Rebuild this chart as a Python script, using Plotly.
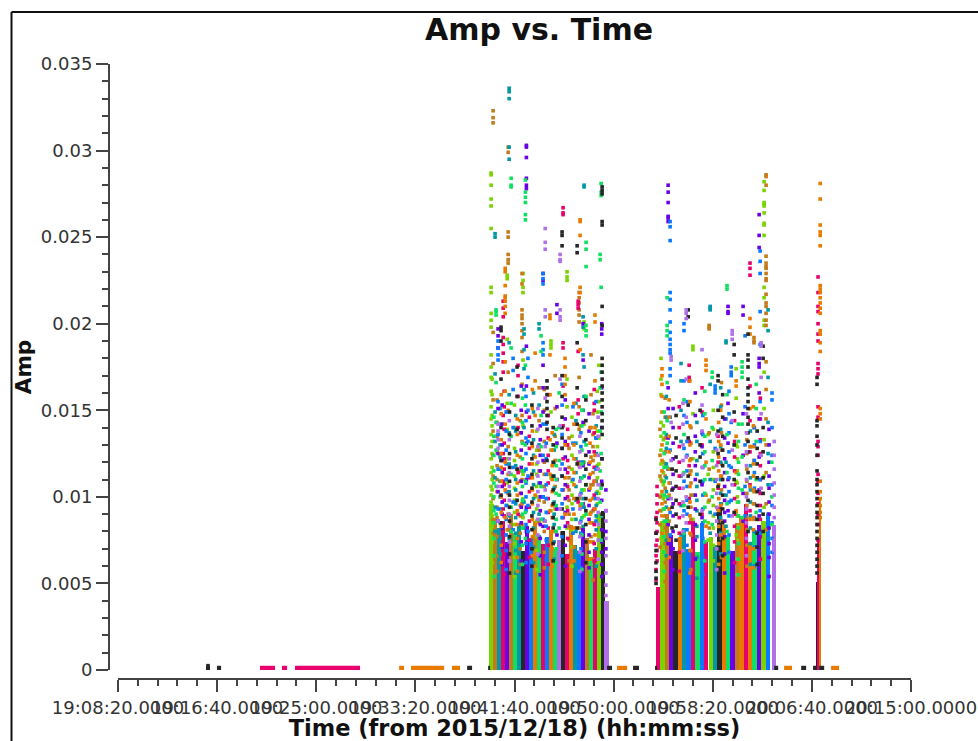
import plotly.graph_objects as go

# Time is seconds after 19:08:20, amplitudes are in milli-Amp units.
tick_seconds = [0, 500, 1000, 1500, 2000, 2500, 3000, 3500, 4000]
tick_labels = ["19:08:20.0000", "19:16:40.0000", "19:25:00.0000", "19:33:20.0000", "19:41:40.0000",
               "19:50:00.0000", "19:58:20.0000", "20:06:40.0000", "20:15:00.0000"]

color_hex = {"lime": "#7ad400", "brown": "#c47a1a", "teal": "#0097a7", "pink": "#e8006e", "purple": "#6a00e8",
             "blue": "#0a78ff", "orange": "#e87a00", "green": "#10e060", "black": "#262626", "lavender": "#b070e8"}

bar1_t = [1882, 1902, 1922, 1943, 1963, 1983, 2003, 2023, 2043, 2063, 2084, 2104, 2124, 2144, 2164, 2184, 2205, 2225,
          2245, 2265, 2285, 2305, 2326, 2346, 2366, 2386, 2406, 2426, 2446, 2464]
bar1_c = ["lime", "brown", "teal", "pink", "purple", "brown", "green", "teal", "black", "purple", "blue", "orange",
          "green", "pink", "blue", "orange", "green", "lavender", "black", "pink", "orange", "teal", "blue", "purple",
          "brown", "green", "pink", "lime", "black", "lavender"]
bar1_h = [9.6, 8.8, 8.2, 8.6, 7.4, 9.0, 7.9, 8.5, 6.9, 8.3, 7.6, 8.6, 7.8, 7.3, 7.7, 8.1, 7.0, 7.5,
          8.0, 6.7, 8.4, 7.2, 6.9, 8.2, 7.6, 6.5, 7.0, 9.0, 9.2, 4.0]

bar2_t = [2724, 2746, 2768, 2790, 2812, 2834, 2856, 2878, 2901, 2923, 2945, 2967, 2990, 3012, 3034, 3056, 3078,
          3100, 3122, 3145, 3167, 3189, 3211, 3233, 3255, 3278, 3310]
bar2_c = ["pink", "lime", "brown", "purple", "black", "orange", "teal", "blue", "pink", "green", "blue", "pink",
          "lime", "teal", "black", "orange", "green", "purple", "brown", "orange", "pink", "orange", "green",
          "purple", "lime", "blue", "lavender"]
bar2_h = [4.8, 8.6, 9.0, 7.8, 6.9, 7.7, 8.2, 7.0, 8.6, 6.8, 8.5, 7.4, 7.7, 7.2, 9.4, 8.4, 7.8, 6.9,
          8.5, 8.9, 9.6, 7.4, 8.1, 8.4, 8.6, 9.0, 8.4]

bar3_t = [3526, 3531, 3542]
bar3_c = ["black", "pink", "orange"]
bar3_h = [5.1, 7.5, 9.9]

low_black_t = [444, 464, None, 499, 520, None, 1761, 1786, None, 1867, 1877, None, 2467, 2492, None, 2598, 2628, None,
               2709, 2719, None, 3310, 3330, None, 3446, 3471, None, 3506, 3526, None, 3537, 3562]
low_black_a = [0.1, 0.1, None, 0.1, 0.1, None, 0.1, 0.1, None, 0.1, 0.1, None, 0.1, 0.1, None, 0.1, 0.1, None,
               0.1, 0.1, None, 0.1, 0.1, None, 0.1, 0.1, None, 0.1, 0.1, None, 0.1, 0.1]
low_pink_t = [716, 792, None, 827, 853, None, 893, 1221]
low_pink_a = [0.1, 0.1, None, 0.1, 0.1, None, 0.1, 0.1]
low_orange_t = [1418, 1443, None, 1478, 1645, None, 1685, 1725, None, 2517, 2568, None, 3360, 3400, None, 3597, 3637]
low_orange_a = [0.1, 0.1, None, 0.1, 0.1, None, 0.1, 0.1, None, 0.1, 0.1, None, 0.1, 0.1, None, 0.1, 0.1]

lime_t = [1882, 1963, 2043, 2184, 2265, 2351, 2426, 2739, 2900, 2977, 3118, 3259,
          1887, 2000, 2112, 2290, 2418, 2751, 3003, 3124]
lime_a = [[28.7, 28.6, 28.0, 27.2, 26.8, 25.5, 22.1, 21.8, 20.6, 20.2, 19.8, 18.2, 17.5, 16.9, 16.1, 15.2, 14.5, 13.6, 12.9, 12.2, 11.4, 10.6, 10.1, 9.7],
          [22.8, 22.6, 19.1, 15.4, 13.9, 12.2, 10.8, 9.5, 8.1],
          [22.9, 22.5, 22.1, 21.8, 17.9, 14.1, 11.3, 9.9, 8.8],
          [19.0, 18.8, 18.6, 14.9, 12.7, 11.1, 9.2],
          [23.0, 22.7, 22.5, 16.8, 15.2, 13.0, 10.7, 9.4, 8.2],
          [20.1, 20.0, 19.7, 14.2, 12.0, 10.4, 8.9],
          [17.6, 15.5, 13.4, 11.9, 10.2, 9.0, 7.9, 7.2],
          [18.0, 16.8, 15.9, 14.3, 13.5, 12.7, 11.9, 11.0, 10.1, 9.2, 8.4, 7.6],
          [18.7, 18.5, 14.8, 12.2, 10.1, 8.7],
          [13.6, 11.3, 9.7, 8.5, 7.5],
          [17.4, 15.7, 13.0, 10.9, 9.1, 7.8],
          [28.2, 27.7, 27.0, 26.9, 26.8, 26.4, 25.8, 25.7, 25.1, 22.1, 21.5, 20.2, 19.9, 17.2, 15.1, 13.3, 11.2, 9.4, 8.2],
          [16.8, 15.9, 14.7, 14.1, 13.2, 12.5, 11.7, 11.0, 10.4, 9.5, 8.9, 8.3, 7.4, 6.2],
          [15.3, 14.0, 12.8, 12.1, 11.2, 10.5, 9.8, 9.1, 8.4, 7.3, 6.5, 5.4],
          [13.8, 12.7, 11.9, 11.3, 10.6, 10.0, 9.3, 8.6, 7.7, 6.9, 5.8],
          [14.6, 13.5, 12.4, 11.6, 10.9, 10.1, 9.6, 8.7, 8.0, 7.1, 6.0],
          [16.1, 14.9, 13.8, 12.9, 11.8, 11.1, 10.3, 9.6, 8.8, 8.1, 7.0, 6.1],
          [14.1, 13.3, 12.0, 11.4, 10.7, 9.9, 9.3, 8.5, 7.8, 6.7, 5.6],
          [15.0, 13.9, 12.6, 11.7, 11.0, 10.4, 9.5, 8.9, 8.2, 7.2, 6.3],
          [12.9, 12.2, 11.5, 10.8, 10.0, 9.7, 8.9, 8.3, 7.5, 6.4, 5.5]]

brown_t = [1892, 1968, 2038, 2124, 2205, 2326, 2386, 2734, 2982, 3208, 3269,
           1912, 2029, 2150, 2275, 2396, 2760, 2890, 3044, 3172]
brown_a = [[32.3, 31.9, 31.6, 19.5, 17.7, 15.6, 13.8, 12.4, 11.2, 9.9, 8.7, 7.9],
           [30.2, 29.9, 25.3, 25.0, 24.0, 23.7, 23.5, 17.2, 15.0, 12.9, 11.3, 10.2, 9.0, 8.1],
           [22.9, 22.3, 20.8, 20.5, 20.3, 20.0, 19.6, 19.2, 18.4, 16.5, 14.7, 13.2, 11.0, 9.6, 8.4],
           [16.3, 14.4, 12.7, 11.5, 9.8, 8.5, 7.6],
           [17.0, 15.1, 13.5, 12.1, 10.6, 9.3, 8.0],
           [21.8, 21.5, 21.2, 20.8, 20.5, 20.1, 16.9, 15.2, 13.9, 11.8, 9.9, 8.2],
           [18.2, 15.9, 14.0, 12.3, 10.7, 9.1, 7.7],
           [13.9, 12.4, 11.2, 10.0, 9.2, 8.4, 7.1],
           [19.9, 19.8, 19.7, 13.7, 11.6, 9.8, 8.2],
           [19.2, 19.0, 18.9, 14.0, 12.1, 10.3, 8.7],
           [28.6, 28.5, 28.0, 23.9, 23.5, 23.3, 23.2, 22.9, 22.6, 22.5, 21.7, 21.2, 21.0, 20.6, 20.2, 19.9, 17.8, 16.2, 14.5, 13.0, 11.4, 9.6, 8.1],
           [15.6, 14.3, 13.5, 12.6, 11.8, 11.0, 10.3, 9.4, 8.8, 7.7, 6.6, 5.7],
           [14.4, 13.7, 12.3, 11.5, 10.9, 10.2, 9.5, 8.9, 7.9, 7.0, 6.1],
           [16.2, 15.0, 13.2, 12.0, 11.3, 10.6, 9.7, 8.6, 8.0, 6.8, 5.9],
           [13.4, 12.8, 11.7, 11.1, 10.4, 9.8, 9.0, 8.3, 7.5, 6.3],
           [14.8, 13.6, 12.9, 12.1, 11.4, 10.7, 9.9, 9.2, 8.5, 7.4, 6.4, 5.2],
           [15.7, 14.6, 13.4, 12.6, 11.9, 11.2, 10.5, 9.7, 8.9, 8.2, 7.3, 6.2, 5.1],
           [14.0, 13.1, 12.2, 11.5, 10.8, 10.1, 9.4, 8.7, 7.8, 6.9, 5.8],
           [16.6, 15.3, 13.7, 12.7, 11.9, 11.2, 10.4, 9.6, 8.6, 7.6, 6.5],
           [13.3, 12.5, 11.6, 10.9, 10.2, 9.5, 8.8, 8.1, 7.2, 6.0]]

teal_t = [1902, 1973, 2048, 2124, 2351, 2346, 2987, 3067, 2840, 3279,
          1927, 2006, 2096, 2200, 2310, 2412, 2766, 2920, 3040, 3190]
teal_a = [[25.2, 25.0, 17.1, 14.9, 13.2, 11.1, 9.4, 8.0],
          [33.6, 33.4, 33.0, 30.2, 29.5, 18.9, 15.9, 13.7, 11.9, 10.3, 8.9, 7.6],
          [19.7, 19.4, 18.5, 17.4, 16.2, 14.0, 11.5, 9.7, 8.2],
          [20.0, 19.7, 15.3, 13.0, 10.8, 9.0, 7.7],
          [28.0, 27.9, 17.5, 15.8, 13.2, 11.2, 9.4],
          [20.4, 19.8, 18.2, 15.0, 12.0, 9.9, 8.3],
          [21.0, 20.9, 20.8, 16.5, 13.2, 11.0, 9.1, 7.9],
          [19.0, 18.9, 14.5, 12.0, 10.1, 8.3],
          [17.7, 16.7, 15.0, 13.2, 11.2, 9.5, 7.8],
          [20.8, 19.6, 16.9, 14.3, 12.5, 10.7, 9.0, 7.6],
          [15.1, 14.2, 13.0, 12.3, 11.6, 10.9, 10.0, 9.3, 8.5, 7.6, 6.7],
          [14.7, 13.8, 12.6, 11.8, 11.0, 10.4, 9.6, 8.8, 7.9, 6.9, 5.6],
          [16.0, 14.9, 13.3, 12.4, 11.5, 10.7, 9.9, 9.1, 8.2, 7.1, 6.2],
          [13.6, 12.7, 11.9, 11.2, 10.5, 9.7, 9.0, 8.4, 7.4, 6.4],
          [15.4, 14.4, 13.1, 12.2, 11.4, 10.6, 9.8, 8.7, 8.0, 6.8, 5.9],
          [14.1, 13.4, 12.5, 11.7, 10.9, 10.2, 9.5, 8.9, 8.1, 7.0, 6.0],
          [15.8, 14.6, 13.6, 12.8, 11.9, 11.1, 10.3, 9.4, 8.6, 7.5, 6.6],
          [14.3, 13.2, 12.1, 11.3, 10.6, 9.8, 9.2, 8.3, 7.7, 6.5, 5.3],
          [16.3, 15.2, 13.9, 12.9, 12.0, 11.0, 10.2, 9.6, 8.8, 7.9, 6.7],
          [13.8, 12.9, 11.8, 11.1, 10.4, 9.7, 8.9, 8.2, 7.3, 6.1]]

pink_t = [1943, 2245, 2321, 2018, 2714, 3188, 2881, 2946, 3027, 3531,
          1948, 2075, 2170, 2268, 2402, 2719, 2831, 3110, 3240]
pink_a = [[21.3, 20.9, 20.4, 19.2, 18.8, 18.3, 17.8, 17.2, 14.7, 12.5, 10.9, 9.3, 8.2],
          [26.7, 26.4, 26.3, 18.9, 18.6, 16.4, 14.1, 12.2, 10.4, 8.8],
          [21.3, 21.1, 20.9, 18.4, 15.6, 14.8, 12.0, 9.7],
          [17.6, 17.0, 15.8, 14.0, 11.4, 9.0],
          [8.8, 7.9, 7.2, 6.6, 5.8, 5.2],
          [23.5, 23.2, 22.8, 16.4, 14.4, 12.6, 10.7, 9.2],
          [17.6, 16.9, 16.7, 13.2, 11.8, 9.9, 8.5],
          [16.3, 14.9, 13.0, 10.8, 9.0],
          [13.5, 12.0, 10.5, 9.3],
          [22.7, 21.8, 21.0, 20.7, 20.0, 19.4, 19.0, 17.7, 17.4, 17.1, 15.2, 14.6, 13.2, 12.9, 12.4, 11.3, 10.9, 10.2, 9.6, 9.0, 8.4, 7.5],
          [16.1, 15.2, 13.9, 13.1, 12.2, 11.6, 10.7, 9.8, 8.9, 7.8, 6.7, 5.5],
          [14.6, 13.5, 12.8, 11.9, 11.1, 10.3, 9.4, 8.6, 7.5, 6.5],
          [15.9, 14.7, 13.4, 12.4, 11.5, 10.8, 9.9, 9.1, 8.2, 7.2, 6.1],
          [13.9, 13.0, 12.1, 11.4, 10.6, 10.0, 9.2, 8.5, 7.6, 6.6],
          [16.2, 15.4, 15.0, 13.7, 12.6, 11.7, 10.9, 10.1, 9.3, 8.4, 7.3, 6.3],
          [10.6, 10.1, 9.6, 9.1, 8.5, 8.0, 7.5, 6.9, 6.3],
          [15.2, 14.0, 12.9, 12.0, 11.2, 10.5, 9.6, 8.8, 7.9, 6.8, 5.7],
          [14.4, 13.2, 12.3, 11.5, 10.7, 9.9, 9.0, 8.3, 7.4, 6.2],
          [15.7, 14.5, 13.3, 12.5, 11.8, 11.0, 10.2, 9.5, 8.7, 7.7, 6.4]]

purple_t = [2060, 1917, 2144, 2214, 2440, 2346, 2461, 2775, 3077, 3153, 3234, 2946,
            1938, 2034, 2130, 2256, 2376, 2800, 2912, 3060, 3284]
purple_a = [[30.3, 30.2, 29.6, 28.4, 28.0, 27.8, 18.7, 16.4, 14.9, 13.1, 11.0, 9.4, 8.0],
            [19.7, 19.3, 18.6, 15.1, 12.5, 10.3, 8.6],
            [22.9, 22.5, 17.6, 16.3, 14.9, 12.1, 10.0, 8.3],
            [21.1, 20.6, 15.2, 13.1, 11.0, 9.3, 7.8],
            [20.0, 19.7, 19.4, 16.3, 14.0, 12.2, 10.9, 9.8, 8.9, 8.1, 7.4, 6.8, 6.1, 5.4],
            [20.0, 17.9, 14.3, 11.8, 9.6],
            [10.4, 9.2, 8.0, 7.0],
            [28.0, 27.6, 27.0, 26.2, 26.1, 25.9, 16.3, 15.1, 13.4, 11.6, 9.9, 8.4, 7.3],
            [21.0, 20.7, 20.6, 15.4, 13.1, 11.0, 9.2],
            [21.0, 20.5, 14.8, 12.4, 10.2, 8.6],
            [26.3, 25.1, 24.4, 18.0, 17.7, 17.5, 16.0, 14.5, 12.3, 10.4, 8.9, 7.7],
            [13.7, 12.9, 10.7, 8.8],
            [15.3, 14.2, 13.0, 12.1, 11.4, 10.6, 9.7, 9.0, 8.2, 7.1, 6.1],
            [16.4, 15.0, 13.7, 12.7, 11.7, 10.9, 10.2, 9.4, 8.5, 7.4, 6.3],
            [14.1, 13.3, 12.4, 11.5, 10.8, 10.0, 9.2, 8.4, 7.6, 6.6, 5.5],
            [15.6, 14.5, 13.2, 12.3, 11.6, 10.7, 9.9, 9.1, 8.3, 7.2, 6.0],
            [14.8, 13.8, 12.6, 11.9, 11.1, 10.4, 9.5, 8.7, 7.8, 6.8, 5.9],
            [15.1, 14.0, 13.1, 12.2, 11.3, 10.5, 9.6, 8.9, 8.0, 7.0, 5.8],
            [16.0, 14.7, 13.5, 12.6, 11.8, 11.0, 10.1, 9.3, 8.4, 7.5, 6.4],
            [14.5, 13.4, 12.2, 11.4, 10.6, 9.8, 9.1, 8.6, 7.7, 6.7, 5.6],
            [13.9, 13.0, 12.0, 11.2, 10.5, 9.7, 9.0, 8.2, 7.3, 6.5, 5.4]]

blue_t = [1917, 2144, 2068, 1993, 2295, 2411, 2785, 2855, 3093, 3239, 3012, 3299, 3163,
          1958, 2058, 2160, 2240, 2335, 2870, 2950, 3082, 3210]
blue_a = [[19.0, 18.6, 18.2, 17.9, 15.5, 13.6, 11.6, 9.3],
          [22.9, 22.6, 22.3, 18.9, 18.5, 18.2, 14.2, 12.4, 10.0, 8.7],
          [18.0, 16.9, 15.0, 13.2, 11.2, 9.5, 8.0],
          [18.0, 17.3, 16.2, 14.0, 11.7, 9.7, 8.1],
          [15.2, 13.1, 11.0, 9.3, 7.9],
          [15.5, 13.4, 11.6, 9.9, 8.6],
          [25.9, 25.6, 24.8, 21.8, 21.4, 20.8, 20.1, 19.5, 19.1, 18.8, 18.5, 18.3, 17.4, 17.0, 14.6, 12.7, 10.8, 9.1, 7.8],
          [20.0, 19.6, 16.7, 14.7, 12.8, 10.9, 9.2],
          [17.5, 17.2, 17.0, 14.3, 11.7, 9.8],
          [24.2, 23.6, 22.9, 20.7, 18.8, 15.5, 13.2, 11.0, 9.2, 7.9],
          [16.4, 16.2, 16.0, 12.8, 10.9, 9.0],
          [16.0, 15.6, 14.0, 12.4, 10.7, 9.5, 8.5, 7.6, 6.8],
          [19.3, 15.2, 13.0, 10.6, 8.9],
          [14.9, 13.8, 12.7, 11.9, 11.0, 10.3, 9.5, 8.7, 7.8, 6.9, 5.8],
          [15.8, 14.4, 13.4, 12.5, 11.6, 10.8, 10.0, 9.2, 8.4, 7.3, 6.2],
          [14.2, 13.1, 12.2, 11.3, 10.7, 9.9, 9.1, 8.3, 7.5, 6.4],
          [16.5, 15.3, 13.6, 12.8, 11.9, 11.2, 10.4, 9.6, 8.8, 7.7, 6.6],
          [13.7, 12.9, 12.0, 11.1, 10.2, 9.4, 8.6, 7.9, 7.0, 5.9],
          [15.5, 14.3, 13.2, 12.4, 11.5, 10.6, 9.8, 9.0, 8.1, 7.2, 6.1],
          [14.7, 13.6, 12.5, 11.7, 10.9, 10.1, 9.3, 8.5, 7.6, 6.5, 5.5],
          [16.1, 14.8, 13.7, 12.6, 11.8, 11.1, 10.3, 9.7, 8.9, 7.8, 6.8],
          [14.0, 13.0, 12.1, 11.4, 10.5, 9.6, 8.8, 8.0, 7.1, 6.0]]

orange_t = [1953, 2104, 2179, 2331, 2406, 2255, 2744, 2966, 3188, 3118, 3040, 3542,
            1933, 2014, 2090, 2190, 2300, 2381, 2780, 2885, 3030, 3205]
orange_a = [[23.2, 23.0, 22.2, 21.6, 21.5, 21.3, 21.0, 20.6, 17.8, 16.1, 14.2, 12.0, 10.4, 8.8],
            [18.3, 16.7, 14.7, 12.3, 10.1, 8.4],
            [20.5, 20.3, 18.2, 15.9, 13.3, 11.3, 9.2],
            [26.0, 25.9, 25.1, 22.1, 21.8, 18.5, 14.1, 11.9, 9.5],
            [20.5, 20.1, 16.7, 14.0, 12.4, 10.9, 9.3, 7.8],
            [18.0, 17.5, 17.0, 16.5, 15.9, 13.0, 11.1, 9.0],
            [17.4, 17.0, 16.5, 15.8, 14.9, 13.0, 12.1, 11.5, 10.9, 10.3, 9.6, 8.9, 7.9],
            [17.9, 17.6, 17.3, 14.5, 12.0, 10.1, 8.3],
            [20.3, 19.8, 19.4, 15.1, 12.9, 10.6, 8.7],
            [16.7, 16.4, 13.5, 11.4, 9.2],
            [15.0, 13.0, 11.2, 9.5, 7.8],
            [28.1, 27.2, 25.7, 25.3, 25.1, 24.5, 22.2, 22.0, 21.8, 21.5, 21.2, 20.9, 20.6, 19.6, 19.4, 18.9, 18.4, 15.1, 14.8, 14.5, 10.9, 10.3, 9.9, 9.5, 9.1, 8.8],
            [15.9, 14.8, 13.3, 12.5, 11.7, 10.9, 10.0, 9.1, 8.3, 7.2, 6.2],
            [14.5, 13.6, 12.4, 11.6, 10.8, 10.1, 9.2, 8.4, 7.6, 6.5, 5.7],
            [16.2, 15.1, 13.8, 12.9, 11.9, 11.1, 10.4, 9.6, 8.7, 7.7, 6.6],
            [13.7, 12.7, 11.8, 11.0, 10.3, 9.5, 8.8, 8.0, 7.0, 6.0],
            [15.4, 14.2, 13.0, 12.2, 11.4, 10.7, 9.9, 9.0, 8.2, 7.1, 6.3],
            [14.0, 13.1, 12.0, 11.3, 10.5, 9.8, 9.0, 8.5, 7.4, 6.4],
            [15.6, 14.6, 13.5, 12.6, 11.6, 10.8, 10.1, 9.3, 8.6, 7.5, 6.5],
            [16.7, 15.5, 14.1, 13.0, 12.1, 11.3, 10.6, 9.7, 8.9, 7.9, 6.9, 5.6],
            [14.3, 13.2, 12.3, 11.5, 10.7, 9.9, 9.2, 8.3, 7.3, 6.1],
            [15.2, 14.1, 12.9, 11.9, 11.2, 10.4, 9.6, 8.8, 8.1, 7.0, 5.9]]

green_t = [1907, 1983, 2055, 2134, 2361, 2437, 2432, 2225, 2770, 3072, 2997, 3148, 3219, 2855, 3298,
           1896, 2040, 2210, 2340, 2755, 2960, 3130]
green_a = [[20.8, 20.7, 20.5, 16.6, 14.3, 12.7, 10.6, 9.0],
           [28.4, 28.0, 27.9, 18.6, 15.4, 13.5, 11.3, 9.4, 8.0],
           [28.3, 27.6, 27.3, 27.0, 26.3, 26.0, 17.6, 15.3, 13.0, 10.9, 9.1, 7.6],
           [19.3, 18.4, 14.7, 12.9, 10.6, 8.7],
           [24.7, 24.3, 23.3, 19.9, 19.6, 19.3, 15.8, 13.0, 10.7, 9.0],
           [28.1, 27.6, 27.4, 22.1, 17.2, 14.9, 12.5, 10.5, 8.9, 7.5],
           [24.0, 23.7, 16.3, 13.8, 11.5, 9.7],
           [16.0, 14.0, 12.1, 10.1, 8.2],
           [21.5, 19.9, 19.6, 19.3, 16.6, 14.4, 13.1, 11.7, 10.0, 8.6],
           [22.2, 22.0, 15.9, 13.6, 11.4, 9.6, 8.0],
           [17.2, 16.9, 14.0, 12.1, 10.0, 8.4],
           [17.8, 17.5, 17.2, 16.9, 14.2, 12.3, 10.4, 8.8],
           [16.5, 15.1, 13.2, 11.0, 9.1],
           [15.6, 13.6, 11.4, 9.5, 7.9],
           [12.0, 10.0, 8.4],
           [14.6, 13.5, 12.4, 11.5, 10.8, 10.0, 9.2, 8.5, 7.6, 6.6, 5.4],
           [15.7, 14.3, 13.1, 12.2, 11.5, 10.6, 9.8, 9.0, 8.2, 7.2, 6.1],
           [13.9, 12.9, 11.8, 11.0, 10.2, 9.5, 8.7, 8.0, 7.0, 6.2],
           [15.0, 14.1, 12.7, 11.9, 11.1, 10.4, 9.6, 8.8, 7.8, 6.7, 5.8],
           [14.9, 13.7, 12.5, 11.7, 10.9, 10.1, 9.3, 8.6, 7.7, 6.8, 5.7],
           [16.1, 14.8, 13.5, 12.6, 11.8, 11.0, 10.2, 9.4, 8.6, 7.4, 6.3],
           [14.2, 13.2, 12.0, 11.3, 10.5, 9.7, 8.9, 8.2, 7.3, 6.4, 5.5]]

black_t = [1932, 2240, 2316, 2442, 2164, 2013, 2876, 3027, 3108, 3178, 3254, 2714, 2795, 2936, 3526, 454,
           1975, 2088, 2195, 2360, 2815, 3050, 3224]
black_a = [[19.8, 19.6, 19.0, 16.8, 14.0, 12.1, 10.1, 8.5],
           [25.3, 25.1, 24.5, 17.0, 15.8, 14.6, 14.0, 13.4, 12.8, 11.2, 9.3, 7.9],
           [24.5, 24.1, 18.9, 16.3, 14.2, 11.9, 9.9, 8.2],
           [27.9, 27.7, 27.5, 25.9, 25.7, 21.0, 19.9, 18.0, 17.6, 17.2, 16.8, 16.4, 16.0, 15.6, 15.2, 14.8, 14.4, 14.0, 13.6, 12.2, 10.7, 9.0],
           [16.7, 16.3, 15.9, 15.5, 15.1, 14.7, 14.3, 13.9, 12.1],
           [17.5, 15.8, 13.9, 11.6, 9.8],
           [20.8, 20.4, 15.3, 13.4, 11.2, 9.4],
           [17.0, 16.7, 15.0, 13.8, 12.5, 10.6, 9.0],
           [18.8, 18.2, 14.9, 13.0, 11.0, 9.1],
           [19.4, 18.2, 17.9, 17.5, 16.8, 16.3, 15.9, 15.5, 15.1, 14.6, 14.2, 13.7, 13.2, 12.6, 11.4, 9.8, 8.0],
           [18.7, 18.0, 14.0, 12.6, 11.1, 10.2, 9.0, 8.0],
           [8.7, 7.9, 6.9, 6.2, 5.7, 5.3, 5.0],
           [11.6, 10.4, 9.4, 8.2],
           [15.0, 13.0, 12.3, 10.9, 9.0],
           [16.9, 16.5, 14.4, 14.1, 13.5, 13.0, 12.4, 11.5, 11.0, 10.7, 10.3, 9.9, 9.5, 9.1, 8.8, 8.4, 8.0, 7.6, 7.2, 6.8, 6.4, 6.0, 5.6],
           [0.25],
           [14.9, 13.6, 12.5, 11.7, 10.9, 10.1, 9.4, 8.6, 7.7, 6.7, 5.6],
           [15.3, 14.1, 13.1, 12.2, 11.3, 10.5, 9.7, 8.9, 8.1, 7.0, 6.0],
           [14.0, 13.0, 12.0, 11.2, 10.4, 9.6, 8.8, 8.2, 7.3, 6.3],
           [15.6, 14.4, 13.3, 12.4, 11.6, 10.7, 9.9, 9.2, 8.4, 7.4, 6.2],
           [14.7, 13.4, 12.3, 11.5, 10.6, 9.8, 9.0, 8.3, 7.5, 6.5, 5.4],
           [15.9, 14.6, 13.5, 12.7, 11.8, 11.0, 10.1, 9.3, 8.5, 7.6, 6.6],
           [13.8, 12.8, 11.9, 11.1, 10.3, 9.5, 8.7, 7.9, 7.1, 6.1]]

lavender_t = [2155, 2230, 1917, 2461, 2866, 3098, 3244, 2790, 3310, 2946,
              1974, 2118, 2330, 2422, 2850, 3020, 3170]
lavender_a = [[25.5, 24.7, 24.3, 20.8, 20.4, 15.7, 12.9, 10.4, 8.6],
              [24.0, 23.7, 23.6, 20.8, 20.4, 20.2, 16.8, 14.1, 11.6, 9.3],
              [14.2, 13.8, 13.3, 12.8, 10.6, 8.6],
              [9.2, 8.6, 7.6, 6.6, 5.6, 4.9, 4.3],
              [20.8, 20.6, 20.3, 16.8, 14.6, 12.3, 10.0, 8.5],
              [19.6, 19.4, 19.1, 14.4, 12.7, 10.7, 8.9],
              [18.9, 18.7, 16.9, 14.8, 12.4, 10.5],
              [18.1, 17.9, 14.3, 12.1, 9.9],
              [13.2, 12.4, 11.6, 10.8, 10.1, 9.4, 8.8, 8.2, 7.5, 6.9],
              [18.5, 15.3, 13.8, 11.7, 9.2],
              [14.4, 13.3, 12.2, 11.4, 10.6, 9.8, 9.0, 8.3, 7.4, 6.3],
              [15.1, 13.9, 12.9, 12.0, 11.2, 10.3, 9.5, 8.7, 7.8, 6.7],
              [13.5, 12.6, 11.7, 10.9, 10.1, 9.3, 8.5, 7.7, 6.8, 5.7],
              [14.6, 13.5, 12.4, 11.6, 10.7, 9.9, 9.1, 8.4, 7.5, 6.4],
              [15.4, 14.2, 13.0, 12.1, 11.3, 10.5, 9.7, 8.9, 8.0, 6.9],
              [13.6, 12.7, 11.8, 11.0, 10.2, 9.4, 8.6, 7.8, 7.0, 5.8],
              [14.8, 13.7, 12.6, 11.8, 11.0, 10.0, 9.3, 8.5, 7.6, 6.6]]

series = [("lime", lime_t, lime_a), ("brown", brown_t, brown_a), ("teal", teal_t, teal_a), ("pink", pink_t, pink_a),
          ("purple", purple_t, purple_a), ("blue", blue_t, blue_a), ("orange", orange_t, orange_a),
          ("green", green_t, green_a), ("black", black_t, black_a), ("lavender", lavender_t, lavender_a)]

L, R, T, B = 109, 911, 64, 679
W, H = 978, 741
PW, PH = R - L, B - T

fig = go.Figure()
for bt, bc, bh, bw in [(bar1_t, bar1_c, bar1_h, 20.5), (bar2_t, bar2_c, bar2_h, 22.5), (bar3_t, bar3_c, bar3_h, 12)]:
    fig.add_trace(go.Bar(x=bt, y=[v / 1000 for v in bh], width=bw,
                         marker=dict(color=[color_hex[c] for c in bc], line=dict(width=0))))
for name, lt, la in [("black", low_black_t, low_black_a), ("pink", low_pink_t, low_pink_a), ("orange", low_orange_t, low_orange_a)]:
    fig.add_trace(go.Scatter(x=lt, y=[None if v is None else v / 1000 for v in la], mode="lines",
                             line=dict(color=color_hex[name], width=5)))
for name, ts, amps in series:
    xs, ys = [], []
    for t, col in zip(ts, amps):
        for v in col:
            xs.append(t)
            ys.append(v / 1000)
    fig.add_trace(go.Scatter(x=xs, y=ys, mode="markers",
                             marker=dict(symbol="square", size=3.6, color=color_hex[name], line=dict(width=0))))

FONT = "DejaVu Sans"
AX = "#444444"
fig.update_layout(
    width=W, height=H, autosize=False, showlegend=False, barmode="overlay", bargap=0,
    paper_bgcolor="white", plot_bgcolor="white",
    margin=dict(l=L, r=W - R, t=T, b=H - B, pad=0, autoexpand=False),
    title=dict(text="<b>Amp vs. Time</b>", x=539 / W, xanchor="center", y=1 - 29 / H, yanchor="middle",
               font=dict(family=FONT, size=30, color="#111111")),
    font=dict(family=FONT, size=18, color="#333333"),
    xaxis=dict(range=[0, 4000], domain=[9 / PW, 1], anchor="free", position=0, showgrid=False, zeroline=False,
               automargin=False,
               showline=True, linecolor=AX, linewidth=2, tickmode="array", tickvals=tick_seconds, ticktext=tick_labels,
               ticks="outside", ticklen=12, tickwidth=2, tickcolor=AX, tickangle=0,
               minor=dict(dtick=100, tick0=0, ticks="outside", ticklen=6, tickwidth=2, tickcolor=AX, showgrid=False),
               title=dict(text="<b>Time (from 2015/12/18) (hh:mm:ss)</b>", standoff=6,
                          font=dict(family=FONT, size=22.5, color="#111111"))),
    yaxis=dict(range=[0, 0.035], domain=[9 / PH, 1], anchor="free", position=0, showgrid=False, zeroline=False,
               automargin=False,
               showline=True, linecolor=AX, linewidth=2, dtick=0.005, tick0=0,
               ticks="outside", ticklen=12, tickwidth=2, tickcolor=AX,
               minor=dict(dtick=0.001, tick0=0, ticks="outside", ticklen=6, tickwidth=2, tickcolor=AX, showgrid=False),
               title=dict(text="<b>Amp</b>", standoff=2, font=dict(family=FONT, size=21.5, color="#111111"))),
    shapes=[dict(type="line", xref="paper", yref="paper", x0=(11.5 - L) / PW, x1=(W - L) / PW,
                 y0=1 + (T - 12) / PH, y1=1 + (T - 12) / PH, line=dict(color="#111111", width=2)),
            dict(type="line", xref="paper", yref="paper", x0=(11.5 - L) / PW, x1=(11.5 - L) / PW,
                 y0=1 + (T - 12) / PH, y1=-(H - B) / PH, line=dict(color="#111111", width=2))],
)
fig.write_html("out.html", config={"displayModeBar": False},
               post_script="document.body.style.margin='0';document.documentElement.style.overflow='hidden';")
